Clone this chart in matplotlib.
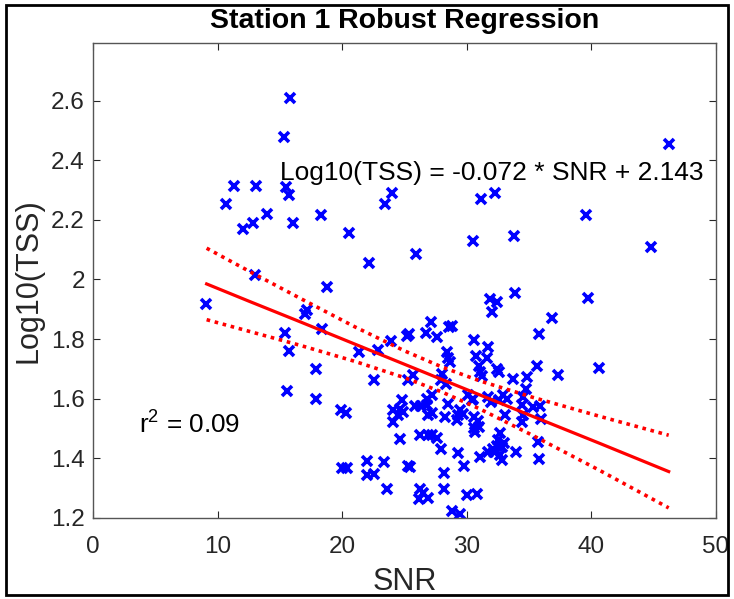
import matplotlib
matplotlib.use("Agg")
import matplotlib.pyplot as plt
from matplotlib.patches import Rectangle

plt.rcParams['font.family'] = ['Liberation Sans', 'DejaVu Sans']
plt.rcParams['mathtext.fontset'] = 'custom'
plt.rcParams['mathtext.rm'] = 'Liberation Sans'
plt.rcParams['mathtext.default'] = 'regular'

# ---- data ----
snr = [15.8, 15.3, 11.3, 13.1, 15.45, 15.7, 10.65, 13.95, 12.8, 12.05, 16.05, 18.3, 20.55, 22.1,
       23.4, 23.95, 13.0, 46.2, 31.15, 32.27, 39.57, 30.47, 33.77, 25.92, 44.74,
       9.08, 18.75, 17.14, 17.0, 18.4, 15.4, 15.7, 17.85, 15.55, 17.9, 21.35, 22.9, 23.9, 22.5,
       19.9, 20.3, 20.0, 20.4, 21.95, 23.35, 21.96, 22.5, 23.57,
       24.1, 24.6, 24.5, 24.85, 24.1, 24.6, 24.8, 25.3,
       33.85, 31.84, 32.45, 32.0, 39.7, 36.8, 35.77, 40.64, 37.3, 35.6, 27.1, 28.6, 28.8, 26.7,
       27.6, 25.2, 25.35, 30.6, 31.7, 30.76, 31.65, 28.4, 28.5, 28.65, 31.0, 31.06, 31.2, 32.45,
       32.55, 33.7, 34.8, 34.76, 28.0, 27.9, 28.3, 25.7, 25.3, 27.2, 26.8, 25.8, 26.3, 26.8,
       26.9, 27.2, 28.2, 28.5, 29.45, 29.7, 29.3, 29.2, 30.1, 30.4, 30.5, 30.6, 30.9, 31.7,
       31.9, 32.6, 32.9, 33.2, 33.07, 34.4, 34.5, 34.4, 35.3, 35.94, 34.5, 35.9, 30.66, 30.93,
       30.6, 32.67, 32.53, 32.8, 32.67, 32.8, 32.4, 32.2, 33.0, 31.7, 32.1, 31.06, 33.93, 35.7,
       35.8, 26.24, 26.9, 27.58, 27.9, 27.2, 25.4, 29.3, 29.8, 28.17, 28.17, 26.24, 26.5, 26.9,
       26.16, 30.0, 30.8, 28.8, 29.45]
log_tss = [2.61, 2.48, 2.315, 2.315, 2.31, 2.283, 2.255, 2.22, 2.19, 2.168, 2.19, 2.217, 2.157, 2.056,
           2.255, 2.292, 2.015, 2.456, 2.27, 2.292, 2.215, 2.128, 2.147, 2.086, 2.11,
           1.917, 1.975, 1.898, 1.883, 1.835, 1.821, 1.76, 1.70, 1.624, 1.598, 1.758, 1.763, 1.795, 1.663,
           1.563, 1.553, 1.367, 1.367, 1.391, 1.388, 1.342, 1.348, 1.297,
           1.561, 1.566, 1.545, 1.555, 1.522, 1.463, 1.594, 1.373,
           1.956, 1.935, 1.924, 1.89, 1.937, 1.872, 1.816, 1.703, 1.678, 1.709, 1.858, 1.84, 1.843, 1.821,
           1.808, 1.81, 1.818, 1.798, 1.774, 1.743, 1.736, 1.758, 1.735, 1.722, 1.708, 1.689, 1.675, 1.70,
           1.69, 1.666, 1.672, 1.632, 1.684, 1.661, 1.65, 1.68, 1.661, 1.613, 1.597, 1.576, 1.576, 1.58,
           1.544, 1.55, 1.537, 1.583, 1.561, 1.549, 1.544, 1.527, 1.611, 1.594, 1.60, 1.538, 1.525, 1.605,
           1.589, 1.594, 1.611, 1.60, 1.544, 1.578, 1.544, 1.522, 1.572, 1.53, 1.605, 1.575, 1.488, 1.505,
           1.50, 1.483, 1.46, 1.438, 1.41, 1.393, 1.44, 1.42, 1.45, 1.421, 1.432, 1.404, 1.419, 1.455,
           1.397, 1.477, 1.477, 1.466, 1.432, 1.477, 1.371, 1.418, 1.374, 1.349, 1.295, 1.298, 1.282, 1.267,
           1.262, 1.276, 1.28, 1.222, 1.211]

fit_x = [9.1, 12.5, 16.6, 21.0, 25.0, 28.0, 31.0, 35.3, 40.7, 46.2]
fit_y = [1.985, 1.927, 1.858, 1.783, 1.715, 1.664, 1.613, 1.540, 1.449, 1.355]
ci_upper = [2.105, 2.028, 1.937, 1.841, 1.760, 1.706, 1.660, 1.604, 1.540, 1.477]
ci_lower = [1.865, 1.826, 1.779, 1.725, 1.670, 1.622, 1.566, 1.476, 1.358, 1.233]

x_ticks = [0, 10, 20, 30, 40, 50]
y_ticks = [1.2, 1.4, 1.6, 1.8, 2.0, 2.2, 2.4, 2.6]
y_ticklabels = ['1.2', '1.4', '1.6', '1.8', '2', '2.2', '2.4', '2.6']

title = 'Station 1 Robust Regression'
eq_text = 'Log10(TSS) = -0.072 * SNR + 2.143'
r2_text = 'r$^{2}$ = 0.09'

# ---- figure ----
fig = plt.figure(figsize=(7.34, 5.99), dpi=100)
ax = fig.add_axes([0.1271, 0.1357, 0.8484, 0.7930])

ax.plot(snr, log_tss, linestyle='none', marker='x', color=(0, 0, 1),
        markersize=6.5, markeredgewidth=2.6)
ax.plot(fit_x, fit_y, color='red', lw=2.3)
ax.plot(fit_x, ci_upper, color='red', lw=2.6, linestyle=(0, (1, 1.3)))
ax.plot(fit_x, ci_lower, color='red', lw=2.6, linestyle=(0, (1, 1.3)))

ax.set_xlim(0, 50)
ax.set_ylim(1.2, 2.795)
ax.set_xticks(x_ticks)
ax.set_yticks(y_ticks)
ax.set_yticklabels(y_ticklabels)

gray = '#262626'
for s in ax.spines.values():
    s.set_color('#555555')
    s.set_linewidth(1.0)
ax.tick_params(direction='in', length=5, width=0.8, top=True, right=True,
               labelsize=17.5, colors=gray)
ax.tick_params(axis='x', pad=13)
ax.tick_params(axis='y', pad=6)
ax.tick_params(labelcolor=gray)

ax.set_xlabel('SNR', fontsize=22, color=gray, va='center')
ax.xaxis.set_label_coords(0.5, -0.136)
ax.set_ylabel('Log10(TSS)', fontsize=22, color=gray, va='center')
ax.yaxis.set_label_coords(-0.1035, 0.5)

fig.text(0.5512, 1 - 28 / 599, title, fontsize=20.5, fontweight='bold', color='black',
         ha='center', va='baseline')

ax.text(15.0, 2.358, eq_text, fontsize=19, color='black', va='center', ha='left')
ax.text(3.7, 1.51, r2_text, fontsize=18.8, color='black', va='center', ha='left')

fig.patches.append(Rectangle((0.008, 0.006), 0.984, 0.986, transform=fig.transFigure,
                             fill=False, edgecolor='black', lw=2.0))

fig.savefig('out.png', dpi=100)
